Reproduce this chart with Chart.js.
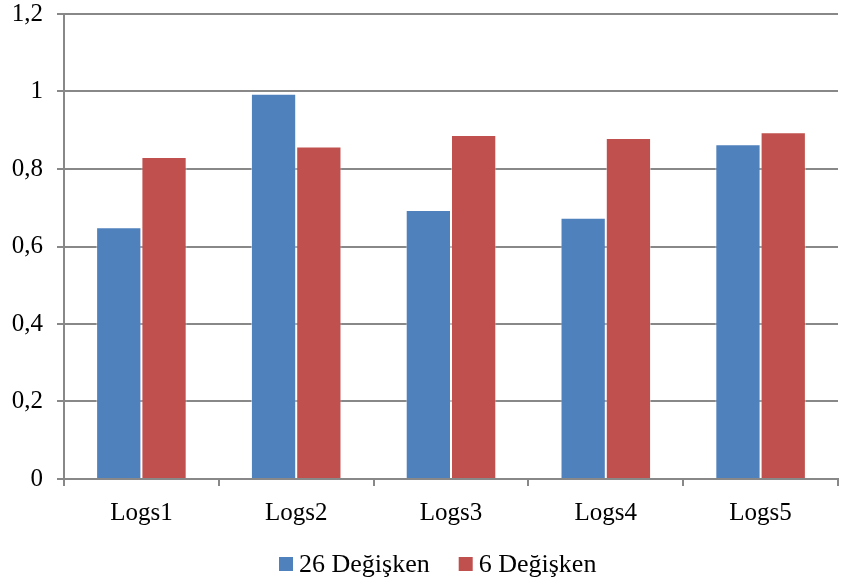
<!DOCTYPE html>
<html>
<head>
<meta charset="utf-8">
<script src="https://cdn.jsdelivr.net/npm/chart.js@4/dist/chart.umd.min.js"></script>
<style>
  html, body { margin: 0; padding: 0; background: #fff; }
  #wrap { width: 842px; height: 587px; }
</style>
</head>
<body>
<div id="wrap"><canvas id="chart" width="842" height="587"></canvas></div>
<script>
// Kategóriák és értékek
const categories = ["Logs1", "Logs2", "Logs3", "Logs4", "Logs5"];
const seriesNames = ["26 Değişken", "6 Değişken"];
const values26 = [0.650, 0.994, 0.694, 0.674, 0.864];
const values6 = [0.831, 0.858, 0.888, 0.880, 0.895];
const yTicks = [0, 0.2, 0.4, 0.6, 0.8, 1, 1.2];

const gridColor = "#888888";
const fontFamily = "'Liberation Serif', 'Times New Roman', serif";
const fontSize = 25;

// Jelmagyarázat alul: kis négyzet + szöveg, az Excel-es elrendezéshez igazítva
const bottomLegend = {
  id: "bottomLegend",
  afterDraw(chart) {
    const c = chart.ctx;
    c.save();
    c.font = `26px ${fontFamily}`;
    c.textBaseline = "alphabetic";
    let x = 279;
    chart.data.datasets.forEach(ds => {
      c.fillStyle = ds.backgroundColor;
      c.fillRect(x, 557, 14, 14);
      x += 20;
      c.fillStyle = "#000";
      c.fillText(ds.label, x, 572);
      x += c.measureText(ds.label).width + 29;
    });
    c.restore();
  }
};

const ctx = document.getElementById("chart").getContext("2d");

new Chart(ctx, {
  type: "bar",
  data: {
    labels: categories,
    datasets: [
      {
        label: seriesNames[0],
        data: values26,
        backgroundColor: "#4F81BD",
        borderColor: "rgba(255,255,255,0.45)",
        borderWidth: 1
      },
      {
        label: seriesNames[1],
        data: values6,
        backgroundColor: "#C0504D",
        borderColor: "rgba(255,255,255,0.45)",
        borderWidth: 1
      }
    ]
  },
  options: {
    responsive: false,
    animation: false,
    devicePixelRatio: 1,
    layout: { padding: { top: 0, right: 4, left: 0, bottom: 48 } },
    datasets: {
      bar: { categoryPercentage: 0.585, barPercentage: 1.0 }
    },
    scales: {
      x: {
        grid: {
          offset: true,
          drawOnChartArea: false,
          color: gridColor,
          lineWidth: 2,
          tickLength: 7
        },
        border: { color: gridColor, width: 2 },
        ticks: {
          color: "#000",
          font: { family: fontFamily, size: fontSize },
          padding: 12
        },
        afterFit: s => { s.height = 60; }
      },
      y: {
        min: 0,
        max: 1.2,
        afterBuildTicks: s => { s.ticks = yTicks.map(v => ({ value: v })); },
        grid: {
          color: gridColor,
          lineWidth: 2,
          tickLength: 7
        },
        border: { color: gridColor, width: 2 },
        ticks: {
          color: "#000",
          font: { family: fontFamily, size: fontSize },
          padding: 14,
          callback: v => String(Math.round(v * 10) / 10).replace(".", ",")
        },
        afterFit: s => {
          s.width = 64;
          s.paddingTop = 14;
          s.paddingBottom = 0;
        }
      }
    },
    plugins: {
      legend: { display: false },
      tooltip: { enabled: false }
    }
  },
  plugins: [bottomLegend]
});
</script>
</body>
</html>
